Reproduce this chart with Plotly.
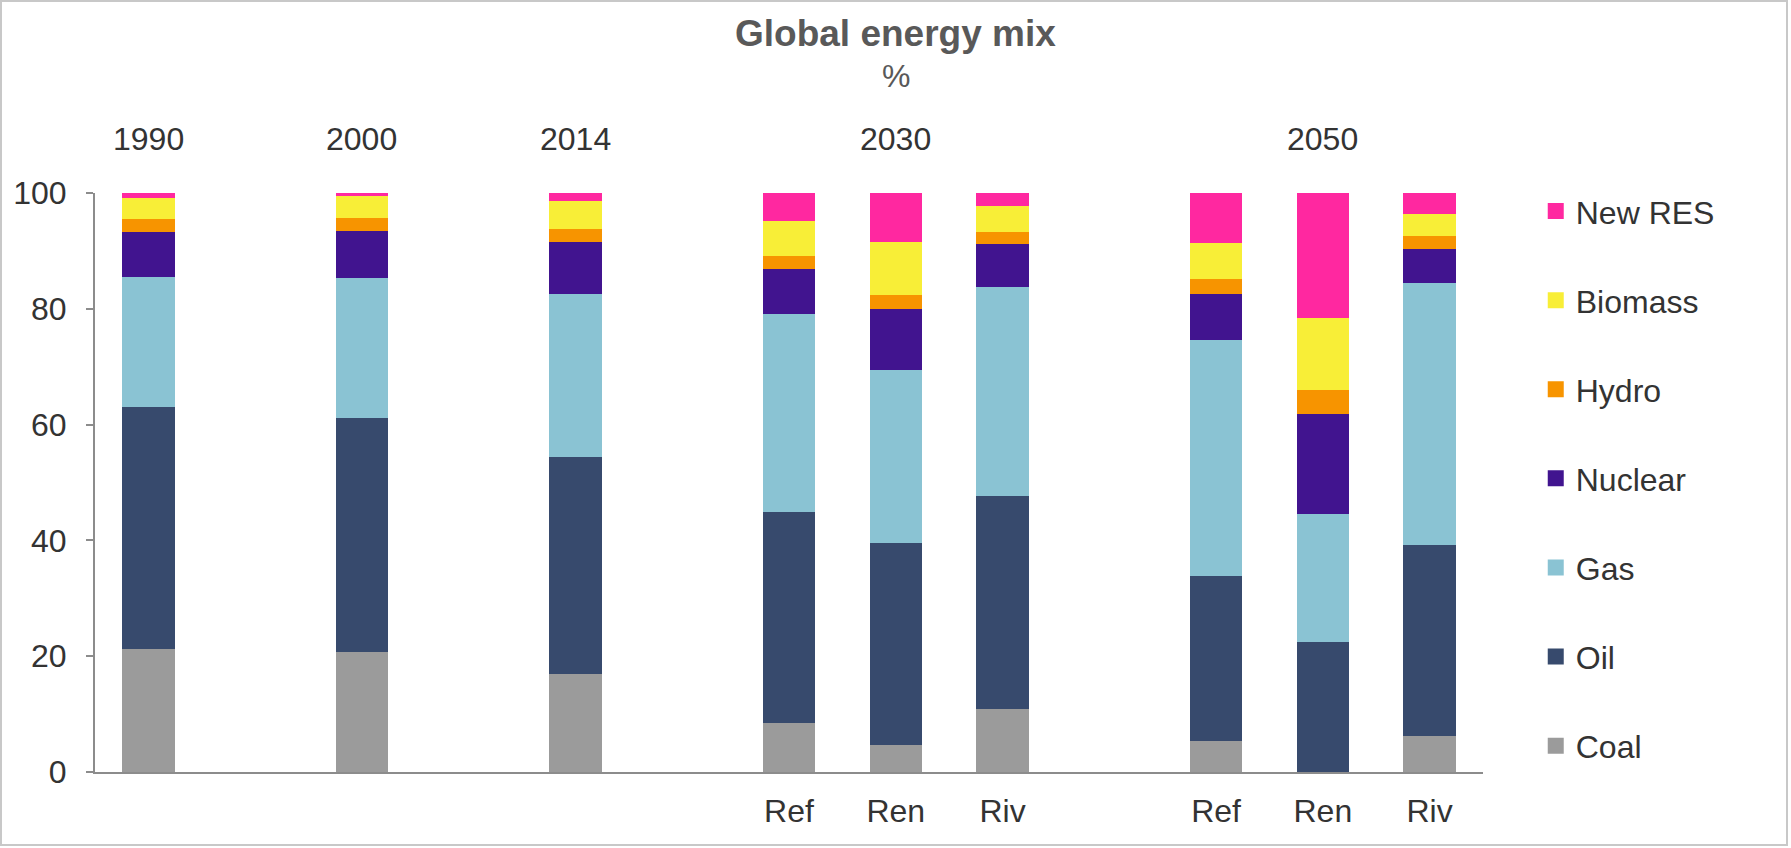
import plotly.graph_objects as go

# ---- data ----
groups    = ["1990", "2000", "2014", "2030", "2030", "2030", "2050", "2050", "2050"]
scenarios = ["", "", "", "Ref", "Ren", "Riv", "Ref", "Ren", "Riv"]

coal    = [21.2, 20.8, 17.0,  8.4,  4.7, 10.9,  5.4,  0.0,  6.3]
oil     = [41.8, 40.4, 37.4, 36.5, 34.8, 36.8, 28.4, 22.5, 32.9]
gas     = [22.5, 24.1, 28.2, 34.2, 29.9, 36.0, 40.8, 22.0, 45.2]
nuclear = [ 7.7,  8.2,  9.0,  7.7, 10.5,  7.5,  8.0, 17.4,  6.0]
hydro   = [ 2.3,  2.1,  2.2,  2.4,  2.5,  2.0,  2.5,  4.0,  2.2]
biomass = [ 3.7,  3.8,  4.9,  5.9,  9.2,  4.5,  6.2, 12.5,  3.8]
new_res = [ 0.8,  0.6,  1.3,  4.9,  8.4,  2.3,  8.7, 21.6,  3.6]

series = [
    ("Coal", coal, "#9b9b9b"),
    ("Oil", oil, "#374a6d"),
    ("Gas", gas, "#8ac3d3"),
    ("Nuclear", nuclear, "#41148f"),
    ("Hydro", hydro, "#f79400"),
    ("Biomass", biomass, "#f8ee37"),
    ("New RES", new_res, "#ff28a0"),
]

# slot index on the axis: one empty slot between different groups
slots = []
for i, g in enumerate(groups):
    if i == 0:
        slots.append(0)
    else:
        slots.append(slots[-1] + (2 if g != groups[i - 1] else 1))

FONT = "Liberation Sans, Arial, sans-serif"
TXT = "#333333"
FS = 32

fig = go.Figure()
n = len(series)
for k, (name, vals, col) in enumerate(series):
    fig.add_trace(go.Bar(x=slots, y=vals, name=name, legendgroup=name,
                         showlegend=False,
                         marker=dict(color=col, line=dict(width=0))))
    # legend entry with a larger square swatch
    fig.add_trace(go.Scatter(x=[None], y=[None], mode="markers", name=name,
                             legendgroup=name, legendrank=n - k, showlegend=True,
                             marker=dict(symbol="square", size=16, color=col)))

L, R, T, B = 95, 308, 193, 76
W, H = 1791, 848
pw, ph = W - L - R, H - T - B

tick_pos = [s for s, sc in zip(slots, scenarios) if sc]
tick_txt = [sc for sc in scenarios if sc]

fig.update_layout(
    width=W, height=H,
    barmode="stack", bargap=0.51,
    paper_bgcolor="white", plot_bgcolor="white",
    margin=dict(l=L, r=R, t=T, b=B),
    font=dict(family=FONT, size=FS, color=TXT),
    showlegend=True,
    legend=dict(traceorder="grouped", tracegroupgap=44.5, maxheight=840,
                itemsizing="trace",
                x=1.038, xanchor="left", y=1.016, yanchor="top",
                font=dict(size=FS, color=TXT), bgcolor="rgba(0,0,0,0)"),
    xaxis=dict(range=[slots[0] - 0.5, slots[-1] + 0.5],
               tickvals=tick_pos, ticktext=tick_txt,
               showline=True, linecolor="#8c8c8c", linewidth=2, ticks="",
               showgrid=False, zeroline=False, ticklabelstandoff=10,
               tickfont=dict(size=FS, color=TXT)),
    yaxis=dict(range=[0, 100], tickvals=[0, 20, 40, 60, 80, 100],
               showline=True, linecolor="#8c8c8c", linewidth=2,
               ticks="outside", ticklen=7, tickcolor="#8c8c8c", tickwidth=2,
               showgrid=False, zeroline=False, ticklabelstandoff=13,
               tickfont=dict(size=FS, color=TXT)),
)

# title and subtitle
fig.add_annotation(text="<b>Global energy mix</b>", xref="paper", yref="paper",
                   x=(W / 2 - L) / pw, y=1 + (T - 34) / ph, showarrow=False,
                   xanchor="center", yanchor="middle",
                   font=dict(size=37, color="#595959", family=FONT))
fig.add_annotation(text="%", xref="paper", yref="paper",
                   x=(W / 2 - L) / pw, y=1 + (T - 76) / ph, showarrow=False,
                   xanchor="center", yanchor="middle",
                   font=dict(size=FS, color="#595959", family=FONT))

# year group labels above the plot (centered over each group)
seen = []
for g in groups:
    if g not in seen:
        seen.append(g)
for g in seen:
    members = [s for s, gg in zip(slots, groups) if gg == g]
    fig.add_annotation(text=g, x=sum(members) / len(members), xref="x", yref="paper",
                       y=1 + (T - 139) / ph, showarrow=False,
                       xanchor="center", yanchor="middle",
                       font=dict(size=FS, color=TXT, family=FONT))

# outer frame
fig.add_shape(type="rect", xref="paper", yref="paper",
              x0=(1 - L) / pw, x1=(1787 - L) / pw,
              y0=-(845 - T - ph) / ph, y1=1 + (T - 1) / ph,
              line=dict(color="#c8c8c8", width=2), layer="below")

fig.write_html("out.html", config={"displayModeBar": False},
               post_script="document.body.style.margin='0';")
